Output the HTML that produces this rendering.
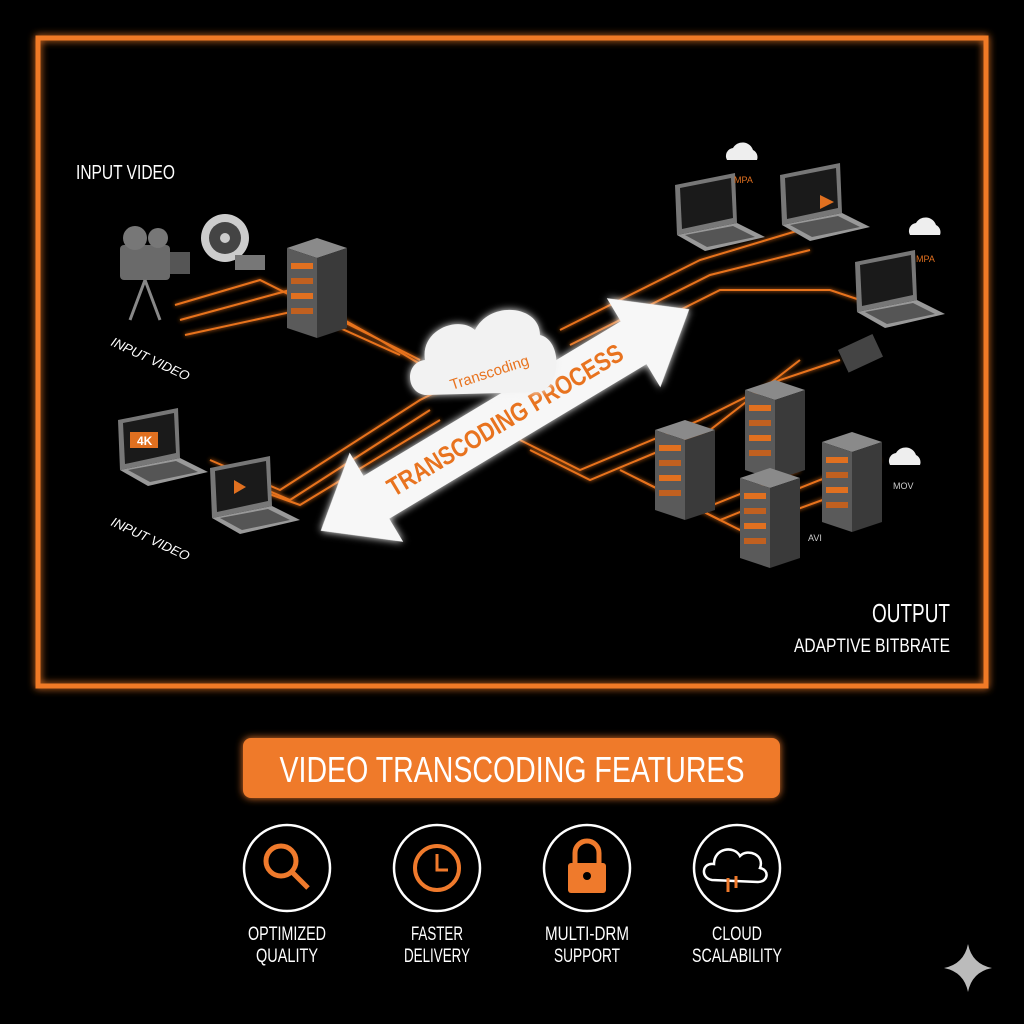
<!DOCTYPE html>
<html><head><meta charset="utf-8"><style>
html,body{margin:0;padding:0;background:#000;}
svg{display:block}
text{font-family:"Liberation Sans Narrow","Liberation Sans",sans-serif;}
</style></head><body>
<svg width="1024" height="1024" viewBox="0 0 1024 1024" xmlns="http://www.w3.org/2000/svg">
<defs>
<filter id="glow" x="-20%" y="-20%" width="140%" height="140%"><feGaussianBlur stdDeviation="4" result="b"/><feMerge><feMergeNode in="b"/><feMergeNode in="SourceGraphic"/></feMerge></filter>
<filter id="glow2" x="-20%" y="-20%" width="140%" height="140%"><feGaussianBlur stdDeviation="2" result="b"/><feMerge><feMergeNode in="b"/><feMergeNode in="SourceGraphic"/></feMerge></filter>
<g id="server">
<polygon points="0,10 30,0 60,10 30,20" fill="#8a8a8a"/>
<polygon points="0,10 30,20 30,100 0,90" fill="#5a5a5a"/>
<polygon points="30,20 60,10 60,90 30,100" fill="#3a3a3a"/>
<rect x="4" y="25" width="22" height="6" fill="#e07020"/>
<rect x="4" y="40" width="22" height="6" fill="#c06020"/>
<rect x="4" y="55" width="22" height="6" fill="#e07020"/>
<rect x="4" y="70" width="22" height="6" fill="#c06020"/>
</g>
<g id="laptop">
<polygon points="0,0 60,-12 62,38 2,50" fill="#777"/>
<polygon points="5,3 56,-7 58,33 7,44" fill="#1a1a1a"/>
<polygon points="2,50 62,38 90,52 30,66" fill="#999"/>
<polygon points="10,50 58,41 80,52 32,62" fill="#555"/>
</g>
<g id="cloudicon"><path d="M5,20 a8,8 0 0 1 6,-12 a11,11 0 0 1 20,2 a8,8 0 0 1 4,10 z" fill="#eee"/></g>
</defs>
<rect width="1024" height="1024" fill="#000"/>
<rect x="38" y="38" width="948" height="648" fill="none" stroke="#f07a28" stroke-width="5" filter="url(#glow)"/>

<g stroke="#e8731f" stroke-width="2" fill="none" filter="url(#glow2)">
<path d="M175,305 L260,280 L360,330 L420,360"/>
<path d="M180,320 L290,290 L380,340 L430,370"/>
<path d="M185,335 L300,310 L400,355"/>
<path d="M210,460 L280,490 L420,400 L440,390"/>
<path d="M220,470 L290,500 L430,410"/>
<path d="M230,480 L300,505 L440,420"/>
<path d="M560,330 L700,260 L800,230"/>
<path d="M570,345 L710,275 L810,250"/>
<path d="M580,360 L720,290 L830,290 L860,300"/>
<path d="M520,440 L580,470 L700,420 L780,380 L840,360"/>
<path d="M530,450 L590,480 L710,430 L800,360"/>
<path d="M620,470 L700,510 L800,470"/>
<path d="M640,480 L720,520 L820,480 L880,460"/>
<path d="M660,490 L740,530 L850,490"/>
</g>

<g>
<rect x="120" y="245" width="50" height="35" fill="#6a6a6a" rx="4"/>
<circle cx="135" cy="238" r="12" fill="#777"/><circle cx="158" cy="238" r="10" fill="#777"/>
<rect x="170" y="252" width="20" height="22" fill="#555"/>
<line x1="145" y1="280" x2="130" y2="320" stroke="#888" stroke-width="3"/>
<line x1="145" y1="280" x2="160" y2="320" stroke="#888" stroke-width="3"/>
<circle cx="225" cy="238" r="24" fill="#ccc"/><circle cx="225" cy="238" r="16" fill="#444"/>
<circle cx="225" cy="238" r="5" fill="#ccc"/>
<rect x="235" y="255" width="30" height="15" fill="#777"/>
</g>
<use href="#server" x="287" y="238"/>
<use href="#laptop" x="118" y="420"/>
<rect x="130" y="432" width="28" height="16" fill="#e07020"/><text x="137" y="445" font-size="12" fill="#fff" font-weight="bold">4K</text>
<use href="#laptop" x="210" y="468"/>
<polygon points="234,480 246,487 234,494" fill="#e07020"/>

<text x="76" y="179" font-size="20" fill="#fff" textLength="99" lengthAdjust="spacingAndGlyphs">INPUT VIDEO</text>
<text x="110" y="345" font-size="13" fill="#fff" transform="rotate(25 110 345)" font-style="italic" textLength="85" lengthAdjust="spacingAndGlyphs">INPUT VIDEO</text>
<text x="110" y="525" font-size="13" fill="#fff" transform="rotate(25 110 525)" font-style="italic" textLength="85" lengthAdjust="spacingAndGlyphs">INPUT VIDEO</text>

<g transform="translate(505,420) rotate(-31)" filter="url(#glow)">
<polygon points="-215,0 -150,-52 -150,-25 150,-25 150,-52 215,0 150,52 150,25 -150,25 -150,52" fill="#f7f7f7"/>
</g>
<g transform="translate(505,420) rotate(-31)">
<text x="0" y="9" font-size="26" font-weight="bold" fill="#e8731f" text-anchor="middle" textLength="270" lengthAdjust="spacingAndGlyphs">TRANSCODING PROCESS</text>
</g>

<g filter="url(#glow)">
<path d="M425,395 C405,392 405,362 425,360 C420,330 458,315 475,330 C490,300 540,305 540,335 C562,340 562,385 540,392 Z" fill="#f2f2f2"/>
</g>
<text x="452" y="390" font-size="15" fill="#e8731f" transform="rotate(-18 452 390)">Transcoding</text>

<use href="#laptop" x="675" y="185"/>
<use href="#laptop" x="780" y="175"/>
<polygon points="820,195 834,202 820,209" fill="#e07020"/>
<use href="#laptop" x="855" y="262"/>
<rect x="838" y="350" width="38" height="25" fill="#444" transform="rotate(-25 838 350)"/>
<use href="#cloudicon" x="722" y="140"/>
<use href="#cloudicon" x="905" y="215"/>
<use href="#cloudicon" x="885" y="445"/>
<text x="734" y="183" font-size="9" fill="#e07020">MPA</text>
<text x="916" y="262" font-size="9" fill="#e07020">MPA</text>
<use href="#server" x="745" y="380"/>
<use href="#server" x="655" y="420"/>
<use href="#server" x="822" y="432"/>
<use href="#server" x="740" y="468"/>
<text x="893" y="489" font-size="9" fill="#ccc">MOV</text>
<text x="808" y="541" font-size="9" fill="#ccc">AVI</text>

<text x="872" y="622" font-size="26" fill="#fff" textLength="78" lengthAdjust="spacingAndGlyphs">OUTPUT</text>
<text x="794" y="652" font-size="19" fill="#fff" textLength="156" lengthAdjust="spacingAndGlyphs">ADAPTIVE BITBRATE</text>

<rect x="243" y="738" width="537" height="60" rx="8" fill="#ef7a2c" filter="url(#glow)"/>
<text x="512" y="782" font-size="36" fill="#fff" text-anchor="middle" textLength="465" lengthAdjust="spacingAndGlyphs">VIDEO TRANSCODING FEATURES</text>

<g stroke="#fff" stroke-width="2.5" fill="none">
<circle cx="287" cy="868" r="43"/><circle cx="437" cy="868" r="43"/>
<circle cx="587" cy="868" r="43"/><circle cx="737" cy="868" r="43"/>
</g>
<g stroke="#ef7a2c" stroke-width="5" fill="none">
<circle cx="281" cy="861" r="15"/><line x1="292" y1="872" x2="308" y2="888"/>
<circle cx="437" cy="868" r="22" stroke-width="4"/>
</g>
<path d="M437,854 V870 H448" stroke="#ef7a2c" stroke-width="3" fill="none"/>
<rect x="568" y="863" width="38" height="30" rx="3" fill="#ef7a2c"/>
<path d="M575,864 V853 a12,12 0 0 1 24,0 V864" stroke="#ef7a2c" stroke-width="5" fill="none"/>
<circle cx="587" cy="876" r="4" fill="#000"/>
<path d="M712,880 C700,878 702,862 714,864 C714,848 734,845 740,856 C748,848 765,855 760,868 C770,870 768,882 758,882 Z" stroke="#fff" stroke-width="2.5" fill="none"/>
<path d="M728,878 V892 M736,888 V876" stroke="#ef7a2c" stroke-width="3"/>

<g font-size="19" fill="#fff" text-anchor="middle" lengthAdjust="spacingAndGlyphs">
<text x="287" y="940" textLength="78" lengthAdjust="spacingAndGlyphs">OPTIMIZED</text><text x="287" y="962" textLength="62" lengthAdjust="spacingAndGlyphs">QUALITY</text>
<text x="437" y="940" textLength="52" lengthAdjust="spacingAndGlyphs">FASTER</text><text x="437" y="962" textLength="66" lengthAdjust="spacingAndGlyphs">DELIVERY</text>
<text x="587" y="940" textLength="84" lengthAdjust="spacingAndGlyphs">MULTI-DRM</text><text x="587" y="962" textLength="66" lengthAdjust="spacingAndGlyphs">SUPPORT</text>
<text x="737" y="940" textLength="50" lengthAdjust="spacingAndGlyphs">CLOUD</text><text x="737" y="962" textLength="90" lengthAdjust="spacingAndGlyphs">SCALABILITY</text>
</g>
<path d="M968,944 Q972,964 992,968 Q972,972 968,992 Q964,972 944,968 Q964,964 968,944 Z" fill="#bbb"/>
</svg>
</body></html>
